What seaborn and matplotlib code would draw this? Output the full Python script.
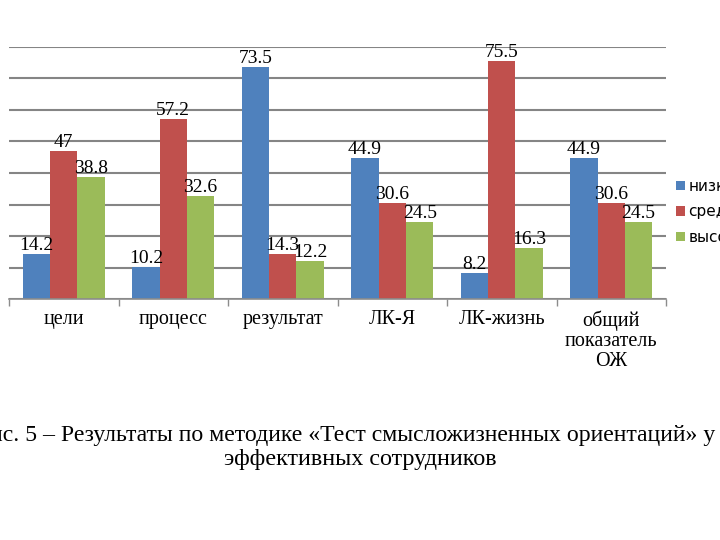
import pandas as pd
import numpy as np
import matplotlib.pyplot as plt
import seaborn as sns

categories = ['цели', 'процесс', 'результат', 'ЛК-Я', 'ЛК-жизнь', 'общий\nпоказатель\nОЖ']
levels = ['низкий', 'средний', 'высокий']
low = [14.2, 10.2, 73.5, 44.9, 8.2, 44.9]
mid = [47, 57.2, 14.3, 30.6, 75.5, 30.6]
high = [38.8, 32.6, 12.2, 24.5, 16.3, 24.5]
colors = ['#4F81BD', '#C0504D', '#9BBB59']

df = pd.DataFrame({
    'category': categories * 3,
    'level': [levels[0]] * 6 + [levels[1]] * 6 + [levels[2]] * 6,
    'value': low + mid + high,
})

sns.set_style('white', {'text.color': 'black', 'xtick.color': 'black'})
serif = ['Liberation Serif', 'DejaVu Serif']

fig = plt.figure(figsize=(7.2, 5.4), dpi=100)
ax = fig.add_axes([9 / 720, 1 - 299 / 540, 657 / 720, 252 / 540])

sns.barplot(data=df, x='category', y='value', hue='level', order=categories,
            hue_order=levels, palette=colors, width=0.75, saturation=1,
            edgecolor='none', ax=ax)

for cont in ax.containers:
    ax.bar_label(cont, labels=[f'{v:g}' for v in cont.datavalues],
                 fontsize=14, family=serif, padding=0, color='black')

ax.set_ylim(0, 80)
ax.set_xlim(-0.5, 5.5)
ax.set_yticks(range(0, 81, 10))
ax.set_yticklabels([])
ax.yaxis.grid(True, color='#858585', linewidth=1.5)
ax.set_axisbelow(True)
ax.set_xlabel('')
ax.set_ylabel('')
for s in ['left', 'right', 'top']:
    ax.spines[s].set_visible(False)
ax.spines['bottom'].set_color('#8c8c8c')
ax.spines['bottom'].set_linewidth(1.2)
ax.tick_params(axis='y', length=0)
ax.tick_params(axis='x', which='major', length=0, pad=8, labelcolor='black')
ax.set_xticks(np.arange(-0.5, 6, 1), minor=True)
ax.tick_params(axis='x', which='minor', length=5, color='#8c8c8c', width=1, direction='out')
ax.xaxis.set_ticks_position('bottom')
for lab in ax.get_xticklabels():
    lab.set_family(serif)
    lab.set_fontsize(14.5)
    lab.set_linespacing(1.1)

handles, labels = ax.get_legend_handles_labels()
leg = ax.legend(handles, labels, loc='upper left', bbox_to_anchor=(676 / 720, 1 - 179 / 540),
                bbox_transform=fig.transFigure, frameon=False, fontsize=11,
                handlelength=0.6, handleheight=0.6, handletextpad=0.2, labelspacing=0.68,
                borderpad=0, borderaxespad=0)
for t in leg.get_texts():
    t.set_color('black')

fig.text(715 / 720, 1 - 436 / 540,
         'Рис. 5 – Результаты по методике «Тест смысложизненных ориентаций» у',
         ha='right', va='center', fontsize=17.1, family=serif)
fig.text(360 / 720, 1 - 459 / 540, 'эффективных сотрудников',
         ha='center', va='center', fontsize=17.4, family=serif)

fig.savefig('out.png', dpi=100)
